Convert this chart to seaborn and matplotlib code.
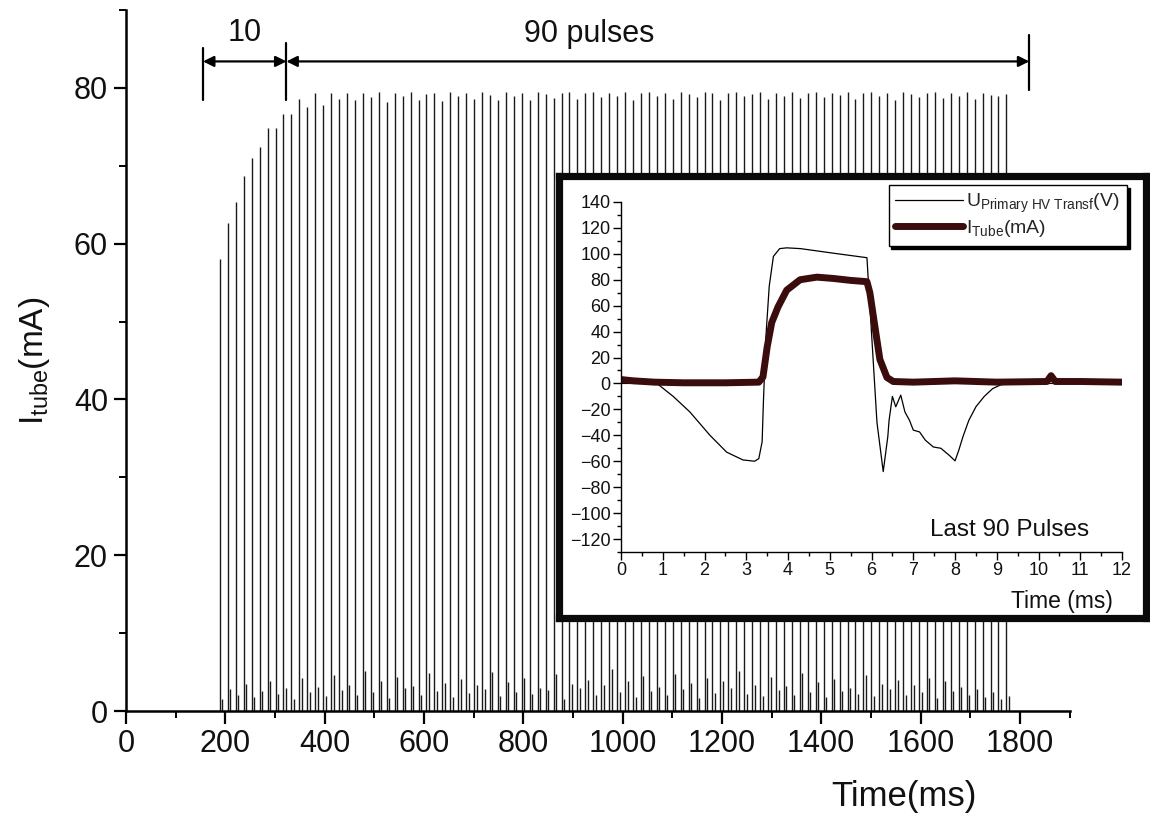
import numpy as np
import pandas as pd
import matplotlib
matplotlib.use("Agg")
import matplotlib.pyplot as plt
from matplotlib.ticker import MultipleLocator
import seaborn as sns

# ---------------- data ----------------
pulse_start_ms = 189
pulse_period_ms = 16
pulse_peaks = [58, 62.7, 65.3, 68.7, 71, 72.4, 74.8, 74.8, 76.6, 76.6,
               78.6, 77.5, 79.4, 77.8, 79.4, 78.6, 79.4, 78.4, 79.4, 78.8,
               79.5, 78.2, 79.3, 78.9, 79.5, 78.5, 79.2, 79.4, 78.3, 79.5,
               78.9, 79.4, 78.6, 79.5, 79.1, 78.4, 79.5, 79.0, 79.4, 78.5,
               79.5, 79.2, 78.7, 79.4, 79.5, 78.6, 79.3, 79.5, 78.8, 79.4,
               79.0, 79.5, 78.4, 79.3, 79.5, 78.9, 79.4, 78.6, 79.5, 79.2,
               78.8, 79.5, 79.3, 78.5, 79.4, 79.5, 78.9, 79.2, 79.5, 78.6,
               79.4, 79.0, 79.5, 78.7, 79.3, 79.5, 78.8, 79.4, 79.1, 79.5,
               78.6, 79.3, 79.5, 78.9, 79.4, 78.5, 79.5, 79.2, 78.8, 79.4,
               79.5, 78.7, 79.3, 79.0, 79.5, 78.6, 79.4, 79.1, 78.9, 79.2]
pulse_tails = [1.5, 2.8, 2.0, 3.5, 1.8, 2.6, 3.9, 2.2, 3.0, 1.6,
               4.2, 2.4, 3.1, 1.9, 4.6, 2.7, 3.3, 2.1, 5.2, 2.5,
               3.8, 1.7, 4.4, 2.9, 3.2, 2.0, 4.9, 2.6, 3.6, 1.8,
               4.1, 2.3, 3.4, 2.8, 5.0, 1.9, 3.7, 2.5, 4.3, 2.2,
               3.0, 2.7, 4.8, 1.6, 3.5, 2.9, 4.0, 2.1, 3.3, 5.4,
               2.4, 3.9, 1.8, 4.5, 2.6, 3.1, 2.0, 4.7, 2.8, 3.6,
               1.7, 4.2, 2.3, 3.8, 2.9, 5.1, 2.2, 3.4, 1.9, 4.4,
               2.7, 3.2, 2.0, 4.9, 2.5, 3.7, 1.8, 4.1, 2.6, 3.0,
               2.2, 4.6, 1.9, 3.5, 2.8, 4.0, 2.1, 3.3, 2.4, 4.3,
               1.7, 3.9, 2.6, 3.1, 2.0, 2.8, 1.8, 2.4, 1.6, 1.9]
tail_delay_ms = 5

main_xticks = [0, 200, 400, 600, 800, 1000, 1200, 1400, 1600, 1800]
main_yticks = [0, 20, 40, 60, 80]

span_10 = (155, 323)
span_90 = (323, 1819)

# inset: last 90 pulses
u_time = [0, 0.5, 0.86, 1.25, 1.65, 2.13, 2.53, 2.92, 3.2, 3.3, 3.38, 3.41, 3.47,
          3.55, 3.65, 3.8, 3.97, 4.3, 5.08, 5.89, 5.96, 6.13, 6.28, 6.39, 6.42,
          6.5, 6.58, 6.7, 6.8, 6.91, 7.0, 7.15, 7.29, 7.48, 7.66, 7.86, 8.0,
          8.09, 8.19, 8.33, 8.5, 8.7, 8.9, 9.1, 9.4, 12.0]
u_primary = [0, 0, 0, -10, -22, -40, -53, -59, -60, -58, -45, -15, 36,
             75, 98, 104, 104.6, 104, 100.5, 97, 60, -30, -68, -41, -28.5,
             -10, -18, -9, -22, -28.5, -36, -37.4, -43.8, -49, -50, -55.4, -59.7,
             -51.5, -41, -28.5, -18, -10, -4, -1, 0, 0]

i_time = [0, 0.3, 0.8, 1.5, 2.5, 3.3, 3.4, 3.5, 3.61, 3.76, 3.97, 4.29, 4.69,
          5.08, 5.5, 5.89, 5.96, 6.08, 6.2, 6.37, 6.52, 7.0, 8.0, 9.0, 10.2,
          10.3, 10.4, 11.0, 12.0]
i_tube = [3, 2, 1, 0.5, 0.5, 1, 5, 28, 47, 59, 72, 80, 82,
          81, 79.5, 78.5, 70, 44, 18.5, 4.6, 1.5, 1, 2, 1, 1.5,
          6, 1.5, 1.5, 1]

# ---------------- style ----------------
sns.set_theme(style="ticks")
plt.rcParams["font.family"] = ["Liberation Sans", "DejaVu Sans"]
plt.rcParams["mathtext.fontset"] = "custom"
plt.rcParams["mathtext.rm"] = "Liberation Sans"
plt.rcParams["mathtext.it"] = "Liberation Sans:italic"
plt.rcParams["mathtext.bf"] = "Liberation Sans:bold"

fig = plt.figure(figsize=(11.5, 8.14), dpi=100)
fig.patch.set_facecolor("white")

# ---------------- main axes ----------------
ax = fig.add_axes([0.1096, 0.1265, 0.8204, 0.8612])
pulse_t = pulse_start_ms + pulse_period_ms * np.arange(len(pulse_peaks))
ax.vlines(pulse_t, 0, pulse_peaks, color="#1a1a1a", lw=1.0)
ax.vlines(pulse_t + tail_delay_ms, 0, pulse_tails, color="#1a1a1a", lw=1.0)

ax.set_xlim(0, 1900)
ax.set_ylim(0, 90)
ax.set_xticks(main_xticks)
ax.set_yticks(main_yticks)
ax.xaxis.set_minor_locator(MultipleLocator(100))
ax.yaxis.set_minor_locator(MultipleLocator(10))
ax.tick_params(which="major", direction="out", length=9, width=1.6,
               labelsize=22, color="black", labelcolor="#111111", pad=4)
ax.tick_params(which="minor", direction="out", length=5, width=1.4, color="black")
for s in ["left", "bottom"]:
    ax.spines[s].set_linewidth(1.8)
    ax.spines[s].set_color("black")
for s in ["top", "right"]:
    ax.spines[s].set_visible(False)
ax.set_facecolor("white")
ax.grid(False)

ax.set_xlabel("Time(ms)", fontsize=25, color="#111111")
ax.xaxis.set_label_coords(0.825, -0.098)
ax.set_ylabel(r"I$_{\mathrm{tube}}$(mA)", fontsize=24, color="#111111")
ax.yaxis.set_label_coords(-0.078, 0.5)

# span annotations
arrow_y = 83.4
for (a, b) in [span_10, span_90]:
    ax.annotate("", xy=(a, arrow_y), xytext=(b, arrow_y),
                arrowprops=dict(arrowstyle="<|-|>", color="black", lw=1.6,
                                mutation_scale=16, shrinkA=0, shrinkB=0))
ax.plot([span_10[0], span_10[0]], [78.4, 85.1], color="black", lw=1.6, clip_on=False)
ax.plot([span_10[1], span_10[1]], [78.4, 85.8], color="black", lw=1.6, clip_on=False)
ax.plot([span_90[1], span_90[1]], [79.7, 86.8], color="black", lw=1.6, clip_on=False)
ax.text((span_10[0] + span_10[1]) / 2, 87.0, "10", fontsize=22,
        ha="center", va="center", color="#111111")
ax.text(933, 86.9, "90 pulses", fontsize=22, ha="center", va="center", color="#111111")

# ---------------- inset frame ----------------
frame = fig.add_axes([0.4865, 0.2402, 0.5100, 0.5430], zorder=2)
frame.set_facecolor("white")
frame.set_xticks([])
frame.set_yticks([])
for s in frame.spines.values():
    s.set_linewidth(5.2)
    s.set_color("#0a0a0a")

# ---------------- inset axes ----------------
ins = fig.add_axes([0.5400, 0.3219, 0.4357, 0.4300], zorder=3)
ins.set_facecolor("white")
df_u = pd.DataFrame({"t": u_time, "v": u_primary})
df_i = pd.DataFrame({"t": i_time, "v": i_tube})
sns.lineplot(data=df_u, x="t", y="v", ax=ins, color="black", lw=0.9,
             label=r"U$_{\mathrm{Primary\ HV\ Transf}}$(V)", estimator=None, sort=False)
sns.lineplot(data=df_i, x="t", y="v", ax=ins, color="#3a0c0c", lw=5,
             label=r"I$_{\mathrm{Tube}}$(mA)", estimator=None, sort=False,
             solid_capstyle="round", solid_joinstyle="round")
ins.set_xlim(0, 12)
ins.set_ylim(-130, 140)
ins.set_xticks(range(0, 13))
ins.set_yticks(range(-120, 141, 20))
ins.xaxis.set_minor_locator(MultipleLocator(0.5))
ins.yaxis.set_minor_locator(MultipleLocator(10))
ins.tick_params(which="major", direction="out", length=5.5, width=1.0,
                labelsize=13, color="black", labelcolor="#111111", pad=2)
ins.tick_params(which="minor", direction="out", length=3, width=1.0, color="black")
for s in ["left", "bottom"]:
    ins.spines[s].set_linewidth(1.0)
    ins.spines[s].set_color("black")
for s in ["top", "right"]:
    ins.spines[s].set_visible(False)
ins.set_xlabel("Time (ms)", fontsize=16.5, color="#111111")
ins.xaxis.set_label_coords(0.88, -0.108)
ins.set_ylabel("")
ins.text(0.775, 0.062, "Last 90 Pulses", transform=ins.transAxes, fontsize=17.5,
         ha="center", va="center", color="#111111")

leg = ins.legend(loc="upper right", bbox_to_anchor=(0.980, 0.7727),
                 bbox_transform=fig.transFigure, borderaxespad=0,
                 fancybox=False, frameon=True, fontsize=14,
                 handlelength=3.5, handletextpad=0.15, borderpad=0.35,
                 labelspacing=0.15, edgecolor="black",
                 shadow={"color": "black", "alpha": 1.0})
leg.get_frame().set_linewidth(1.0)
leg.get_frame().set_alpha(1.0)

fig.savefig("out.png", dpi=100, facecolor="white")
